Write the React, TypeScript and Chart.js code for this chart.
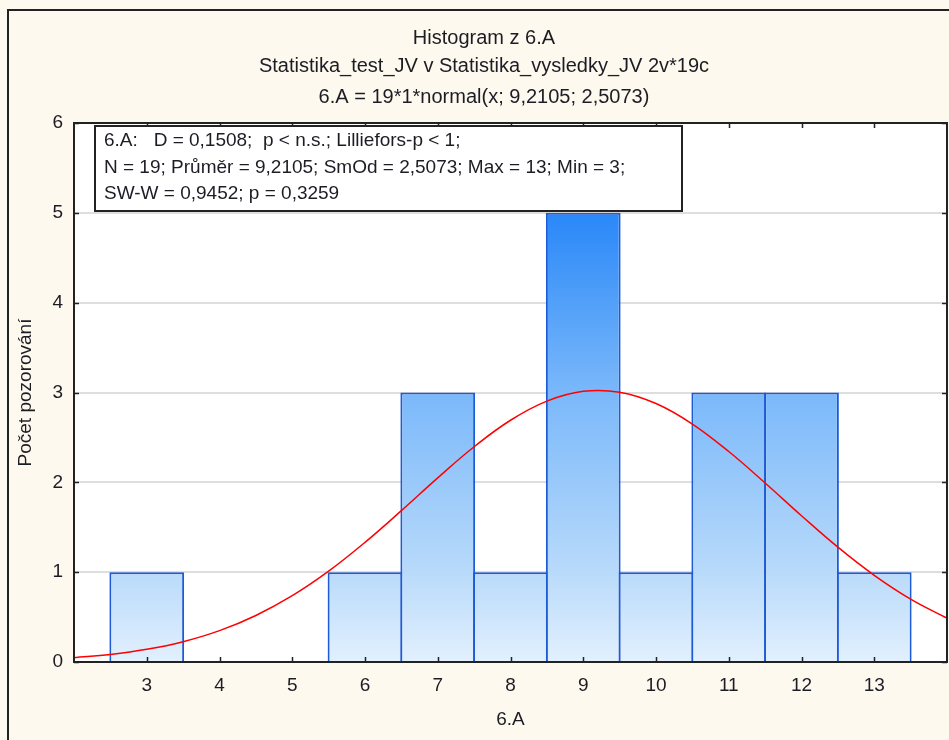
import React, { useEffect, useRef } from 'react';
import { Chart, registerables } from 'chart.js';

Chart.register(...registerables);

const titleLines = [
  'Histogram z 6.A',
  'Statistika_test_JV v Statistika_vysledky_JV 2v*19c',
  '6.A = 19*1*normal(x; 9,2105; 2,5073)',
];
const statsLines = [
  '6.A:   D = 0,1508;  p < n.s.; Lilliefors-p < 1;',
  'N = 19; Průměr = 9,2105; SmOd = 2,5073; Max = 13; Min = 3;',
  'SW-W = 0,9452; p = 0,3259',
];
const binCenters = [3, 4, 5, 6, 7, 8, 9, 10, 11, 12, 13];
const counts = [1, 0, 0, 1, 3, 1, 5, 1, 3, 3, 1];
const curveX = [2, 2.5, 3, 3.5, 4, 4.5, 5, 5.5, 6, 6.5, 7, 7.5, 8, 8.5, 9, 9.5, 10, 10.5, 11, 11.5, 12, 12.5, 13, 13.5, 14];
const curveY = [0.048, 0.084, 0.141, 0.226, 0.349, 0.518, 0.738, 1.011, 1.332, 1.685, 2.05, 2.396, 2.691, 2.904, 3.013, 3.003, 2.877, 2.649, 2.343, 1.993, 1.628, 1.278, 0.965, 0.7, 0.488];
const xTicks = [3, 4, 5, 6, 7, 8, 9, 10, 11, 12, 13];
const yTicks = [0, 1, 2, 3, 4, 5, 6];
const xTitle = '6.A';
const yTitle = 'Počet pozorování';

const FONT = '"Liberation Sans", Arial, sans-serif';
const TEXT = '#1c1c24';

const decor = {
  id: 'decor',
  beforeDraw(chart: any) {
    const { ctx, chartArea: a, width, height } = chart;
    ctx.save();
    ctx.fillStyle = '#fef9ee';
    ctx.fillRect(0, 0, width, height);
    ctx.fillStyle = '#ffffff';
    ctx.fillRect(a.left, a.top, a.right - a.left, a.bottom - a.top);
    ctx.strokeStyle = '#222';
    ctx.lineWidth = 2;
    ctx.beginPath();
    ctx.moveTo(8, height + 5);
    ctx.lineTo(8, 10);
    ctx.lineTo(width + 5, 10);
    ctx.stroke();
    ctx.fillStyle = TEXT;
    ctx.font = '20px ' + FONT;
    ctx.textAlign = 'center';
    ctx.textBaseline = 'middle';
    const ys = [38, 66, 97];
    titleLines.forEach((t, i) => ctx.fillText(t, 484, ys[i]));
    ctx.restore();
  },
  afterDatasetsDraw(chart: any) {
    const { ctx, chartArea: a, scales } = chart;
    ctx.save();
    ctx.strokeStyle = '#222';
    ctx.lineWidth = 2;
    ctx.strokeRect(a.left, a.top, a.right - a.left, a.bottom - a.top);
    ctx.lineWidth = 1.5;
    ctx.beginPath();
    xTicks.forEach((v) => {
      const px = Math.round(scales.x.getPixelForValue(v)) + 0.5;
      ctx.moveTo(px, a.bottom);
      ctx.lineTo(px, a.bottom - 5);
      ctx.moveTo(px, a.top);
      ctx.lineTo(px, a.top + 5);
    });
    yTicks.forEach((v) => {
      const py = Math.round(scales.y.getPixelForValue(v)) + 0.5;
      ctx.moveTo(a.left, py);
      ctx.lineTo(a.left + 5, py);
      ctx.moveTo(a.right, py);
      ctx.lineTo(a.right - 5, py);
    });
    ctx.stroke();
    // stats box
    const bx = a.left + 21;
    const by = a.top + 3;
    const bw = 587;
    const bh = 85;
    ctx.fillStyle = '#ffffff';
    ctx.fillRect(bx, by, bw, bh);
    ctx.lineWidth = 2;
    ctx.strokeStyle = '#222';
    ctx.strokeRect(bx, by, bw, bh);
    ctx.fillStyle = TEXT;
    ctx.font = '19px ' + FONT;
    ctx.textAlign = 'left';
    ctx.textBaseline = 'middle';
    statsLines.forEach((t, i) => ctx.fillText(t, bx + 9, by + 15 + i * 26.5));
    ctx.restore();
  },
};

export default function App() {
  const ref = useRef<HTMLCanvasElement>(null);
  useEffect(() => {
    if (!ref.current) return;
    Chart.defaults.font.family = FONT;
    const chart = new Chart(ref.current, {
      type: 'bar',
      data: {
        datasets: [
          {
            type: 'line',
            data: curveX.map((x, i) => ({ x, y: curveY[i] })),
            borderColor: '#ff0000',
            borderWidth: 1.5,
            pointRadius: 0,
            fill: false,
            tension: 0.4,
            order: 0,
          } as any,
          {
            type: 'bar',
            data: binCenters.map((x, i) => ({ x, y: counts[i] === 0 ? null : counts[i] })),
            backgroundColor: (c: any) => {
              const a = c.chart.chartArea;
              if (!a) return '#7ab8fa';
              const g = c.chart.ctx.createLinearGradient(0, a.top, 0, a.bottom);
              g.addColorStop(0, '#0a70f5');
              g.addColorStop(0.17, '#2a88f8');
              g.addColorStop(0.5, '#7ab8fa');
              g.addColorStop(0.83, '#b8dafa');
              g.addColorStop(1, '#e2f0fe');
              return g;
            },
            borderColor: '#1d5ad6',
            borderWidth: 2,
            barPercentage: 1.0275,
            categoryPercentage: 1,
            order: 1,
          } as any,
        ],
      },
      options: {
        responsive: false,
        animation: false,
        events: [],
        layout: { padding: { top: 123, right: 2, left: 0, bottom: 0 } },
        plugins: { legend: { display: false }, tooltip: { enabled: false }, title: { display: false } },
        scales: {
          x: {
            type: 'linear',
            min: 2,
            max: 14,
            offset: false,
            afterBuildTicks: (s: any) => {
              s.ticks = xTicks.map((v) => ({ value: v }));
            },
            afterFit: (s: any) => {
              s.height = 78;
            },
            grid: { display: false, drawTicks: false },
            border: { display: false },
            ticks: { font: { size: 19 }, color: TEXT, padding: 12, autoSkip: false, maxRotation: 0 },
            title: { display: true, text: xTitle, font: { size: 19 }, color: TEXT, padding: { top: 0, bottom: 9 } },
          },
          y: {
            min: 0,
            max: 6,
            afterBuildTicks: (s: any) => {
              s.ticks = yTicks.map((v) => ({ value: v }));
            },
            afterFit: (s: any) => {
              s.width = 74;
            },
            grid: { color: '#dedede', lineWidth: 2, drawTicks: false },
            border: { display: false },
            ticks: { font: { size: 19 }, color: TEXT, padding: 11 },
            title: { display: true, text: yTitle, font: { size: 19 }, color: TEXT, padding: { top: 14, bottom: 0 } },
          },
        },
      },
      plugins: [decor],
    } as any);
    return () => chart.destroy();
  }, []);
  return (
    <div style={{ position: 'absolute', left: 0, top: 0, width: 949, height: 740 }}>
      <canvas ref={ref} width={949} height={740} />
    </div>
  );
}
